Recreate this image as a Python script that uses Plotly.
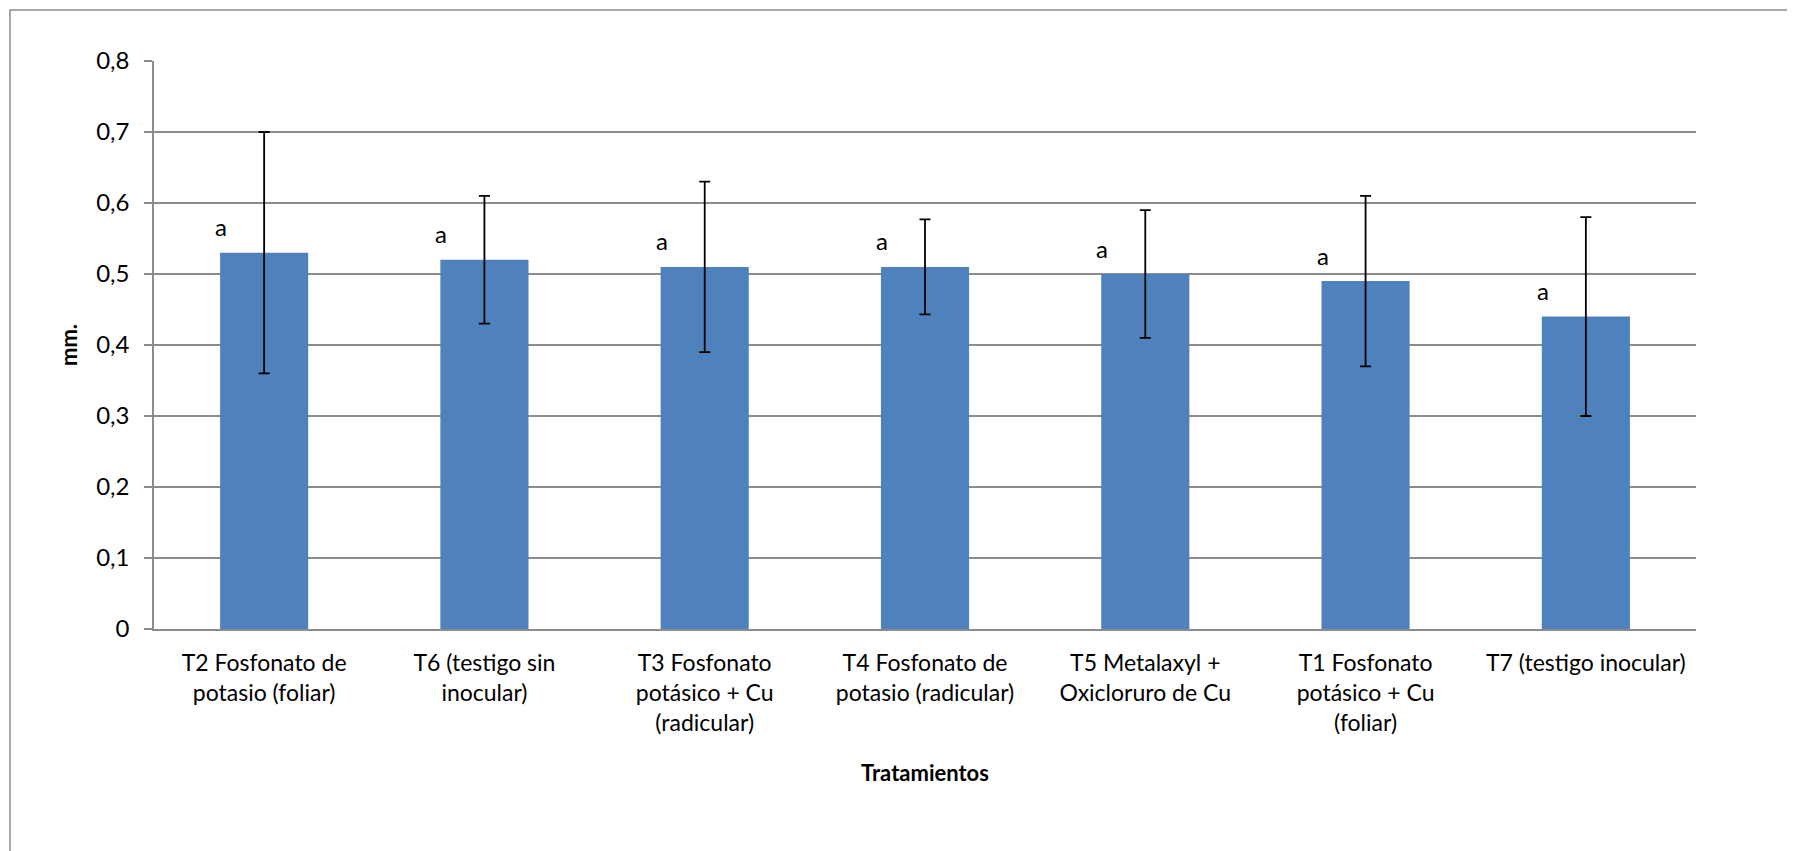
import plotly.graph_objects as go

categories = [
    "T2 Fosfonato de potasio (foliar)",
    "T6 (testigo sin inocular)",
    "T3 Fosfonato potásico + Cu (radicular)",
    "T4 Fosfonato de potasio (radicular)",
    "T5 Metalaxyl + Oxicloruro de Cu",
    "T1 Fosfonato potásico + Cu (foliar)",
    "T7 (testigo inocular)",
]
tick_labels = [
    "T2 Fosfonato de<br>potasio (foliar)",
    "T6 (testigo sin<br>inocular)",
    "T3 Fosfonato<br>potásico + Cu<br>(radicular)",
    "T4 Fosfonato de<br>potasio (radicular)",
    "T5 Metalaxyl +<br>Oxicloruro de Cu",
    "T1 Fosfonato<br>potásico + Cu<br>(foliar)",
    "T7 (testigo inocular)",
]
means = [0.53, 0.52, 0.51, 0.51, 0.50, 0.49, 0.44]
errors = [0.17, 0.09, 0.12, 0.067, 0.09, 0.12, 0.14]
letters = ["a", "a", "a", "a", "a", "a", "a"]
y_ticks = [0, 0.1, 0.2, 0.3, 0.4, 0.5, 0.6, 0.7, 0.8]
y_tick_text = ["0", "0,1", "0,2", "0,3", "0,4", "0,5", "0,6", "0,7", "0,8"]

FONT = "Lato, Calibri, Carlito, sans-serif"
GRID = "#8c8c8c"

fig = go.Figure()
fig.add_trace(go.Bar(
    x=categories,
    y=means,
    width=0.4,
    marker=dict(color="#4F81BD", line=dict(width=0)),
    error_y=dict(type="data", array=errors, visible=True,
                 color="black", thickness=1.8, width=5.5),
    hoverinfo="x+y",
    showlegend=False,
))

for cat, val, lab in zip(categories, means, letters):
    fig.add_annotation(x=cat, y=val, text=lab, showarrow=False,
                       xref="x", yref="y", xshift=-43, yshift=26,
                       font=dict(family=FONT, size=24, color="black"))

# outer chart border (only top and left edges visible in the reference)
fig.add_shape(type="rect", xref="paper", yref="paper",
              x0=-0.0934, x1=1.5, y0=-1.0, y1=1.0898,
              line=dict(color="#8c8c8c", width=1.5), fillcolor="rgba(0,0,0,0)",
              layer="below")

fig.update_layout(
    width=1787, height=843, autosize=False,
    margin=dict(l=146, r=99, t=53, b=222),
    paper_bgcolor="white", plot_bgcolor="white",
    font=dict(family=FONT, size=23, color="black"),
    bargap=0.6,
    xaxis=dict(
        tickmode="array", tickvals=categories, ticktext=tick_labels,
        showgrid=False, showline=True, linecolor=GRID, linewidth=1.5,
        ticks="", tickangle=0, ticklabelstandoff=13,
        tickfont=dict(family=FONT, size=23, color="black"),
        title=dict(text="<b>Tratamientos</b>", standoff=30,
                   font=dict(family=FONT, size=22, color="black")),
    ),
    yaxis=dict(
        range=[0, 0.8], tickmode="array", tickvals=y_ticks, ticktext=y_tick_text,
        showgrid=True, gridcolor=GRID, gridwidth=1.5,
        showline=True, linecolor=GRID, linewidth=1.5,
        ticks="outside", ticklen=8, tickcolor=GRID, tickwidth=1.5,
        ticklabelstandoff=10,
        tickfont=dict(family=FONT, size=24, color="black"),
        zeroline=False,
        title=dict(text="<b>mm.</b>", standoff=12,
                   font=dict(family=FONT, size=22, color="black")),
    ),
)

fig.write_html("out.html")
